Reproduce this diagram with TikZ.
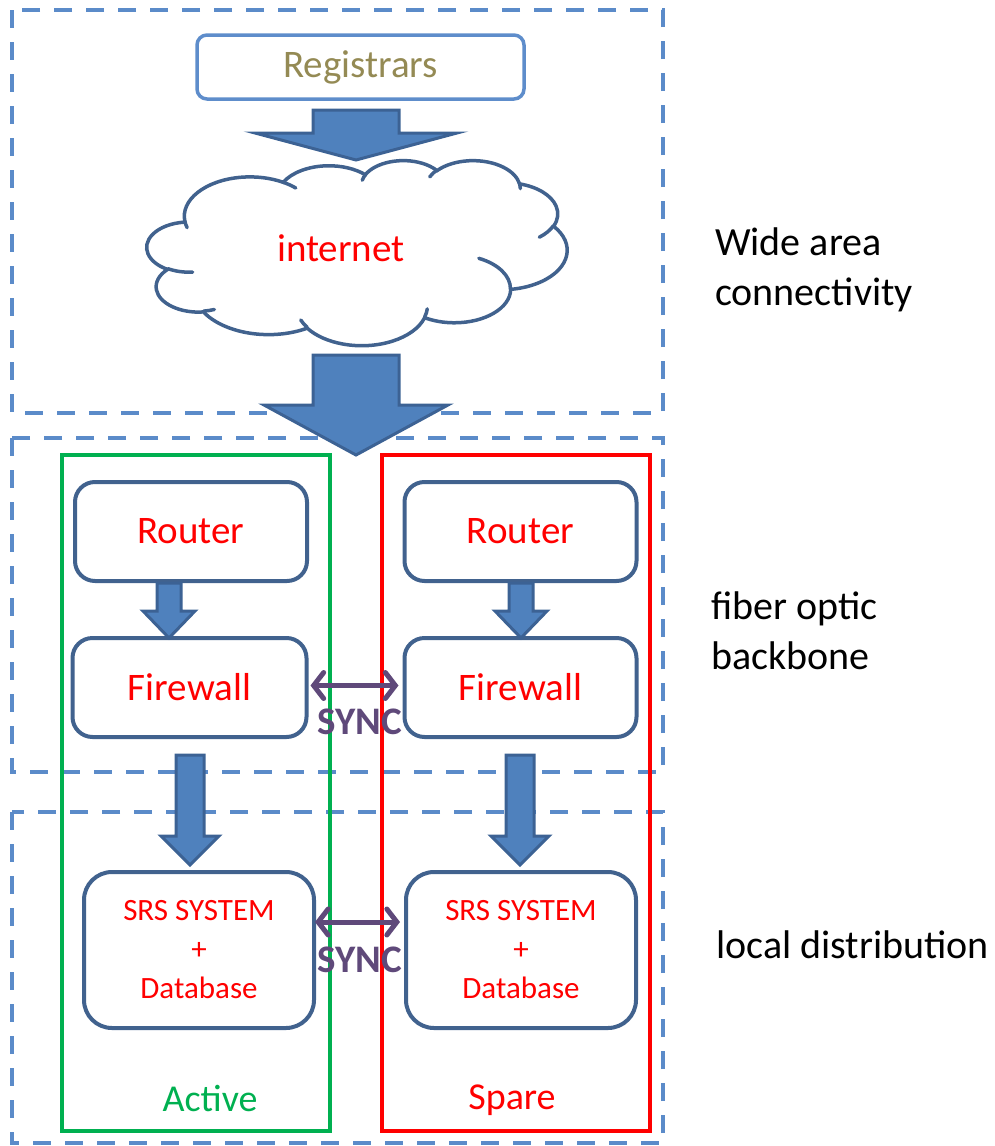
\documentclass[tikz,border=0pt]{standalone}
\usepackage{fontspec}
\setmainfont{Carlito}
\usetikzlibrary{arrows.meta,calc}
\definecolor{dashblue}{HTML}{5B8BC9}
\definecolor{boxline}{HTML}{41628E}
\definecolor{arrfill}{HTML}{4F81BD}
\definecolor{arrline}{HTML}{3C6294}
\definecolor{regline}{HTML}{5E8DCB}
\definecolor{regtext}{HTML}{948A54}
\definecolor{syncc}{HTML}{5F497A}
\definecolor{actgreen}{HTML}{00B050}
\newcommand{\blockarr}[6]{% x, ytop, shaft half, head half, length, head length
  \draw[blockarrow] (#1-#3,#2) -- (#1-#3,#2+#5-#6) -- (#1-#4,#2+#5-#6) -- (#1,#2+#5)
    -- (#1+#4,#2+#5-#6) -- (#1+#3,#2+#5-#6) -- (#1+#3,#2) -- cycle;}
% elliptic arc with visual start angle / sweep (DrawingML style)
\newcommand{\cloudarc}[4]{%
  \pgfmathsetmacro\cT{atan2((#3)*sin(#1),(#4)*cos(#1))}%
  \pgfmathsetmacro\cE{atan2((#3)*sin((#1)+(#2)),(#4)*cos((#1)+(#2)))}%
  \pgfmathsetmacro\cD{\cE-\cT}%
  \pgfmathsetmacro\cD{\cD<0 ? \cD+360 : \cD}}
\tikzset{oarc/.style n args={4}{/utils/exec={\cloudarc{#1}{#2}{#3}{#4}},
  insert path={arc[start angle=\cT,delta angle=\cD,x radius=#3,y radius=#4]}}}
\begin{document}
\begin{tikzpicture}[x=1pt,y=-1pt,
  zone/.style={draw=dashblue,line width=4pt,dash pattern=on 18pt off 14pt},
  rbox/.style={draw=boxline,line width=4pt,rounded corners=20pt,fill=white,
    text=red,font=\fontsize{39}{46}\selectfont,inner sep=0pt},
  blockarrow/.style={fill=arrfill,draw=arrline,line width=3pt,line join=miter},
  cloudline/.style={draw=boxline,line width=3.5pt},
  sync/.style={draw=syncc,line width=5pt,{Straight Barb[length=10pt,width=26pt,line cap=round]}-{Straight Barb[length=10pt,width=26pt,line cap=round]}},
  synctext/.style={text=syncc,font=\fontsize{39}{46}\selectfont\bfseries,inner sep=0pt},
  lbl/.style={font=\fontsize{40}{50}\selectfont,align=left,anchor=west,inner sep=0pt}]
\useasboundingbox (0,0) rectangle (995,1146);
% zones
\draw[zone] (12,10) rectangle (663,413);
\draw[zone] (12,438) rectangle (663,772);
\draw[zone] (12,812) rectangle (663,1143);
% active / spare frames
\draw[actgreen,line width=3.5pt] (62,455) rectangle (330,1131);
\draw[red,line width=4pt] (382,455) rectangle (650,1131);
% registrars
\node[draw=regline,line width=3.5pt,rounded corners=10pt,minimum width=327pt,minimum height=64pt,
  text=regtext,font=\fontsize{39}{46}\selectfont,inner sep=0pt] (reg) at (360.5,67) {Registrars};
% cloud (path space 4320 x 4320)
\begin{scope}[shift={(147,160)},x=0.0972222pt,y=-0.0428241pt]
  \path[cloudline,fill=white] (390,1437)
    [oarc={-190.4875}{123.7805}{675.3}{919.0}]
    [oarc={-144.1024}{89.9452}{533.3}{726.7}]
    [oarc={-145.8079}{99.7230}{436.5}{594.5}]
    [oarc={-130.9861}{117.2417}{485.7}{659.5}]
    [oarc={-78.7089}{109.0269}{533.3}{727.3}]
    [oarc={-46.2673}{130.2690}{677.5}{922.0}]
    [oarc={0.6250}{114.0333}{578.5}{786.7}]
    [oarc={22.4516}{115.1726}{675.2}{921.5}]
    [oarc={66.2426}{75.7110}{772.0}{1054.3}]
    [oarc={-274.9421}{146.7356}{436.0}{591.8}]
    [oarc={-246.8285}{152.5189}{434.5}{594.5}] -- cycle;
  \path[cloudline,line cap=round]
    (469.3,2617.7) [oarc={86.7420}{26.4295}{434.5}{594.5}]
    (692.8,3489.9) [oarc={73.6105}{11.4475}{436.0}{591.8}]
    (1647.8,3909.0) [oarc={137.6242}{14.0811}{675.2}{921.5}]
    (2882.7,3475.1) [oarc={6.4533}{15.9984}{675.2}{921.5}]
    (3412.9,2295.4) [oarc={-70.2924}{70.9174}{578.5}{786.7}]
    (4179.8,1535.4) [oarc={30.3180}{27.7515}{533.3}{727.3}]
    (3832.4,542.6) [oarc={-13.7443}{14.8589}{485.7}{659.5}]
    (2907.8,395.2) [oarc={-149.1815}{18.1954}{485.7}{659.5}]
    (2214.1,472.0) [oarc={-163.4943}{17.6864}{436.5}{594.5}]
    (1400.0,519.2) [oarc={-66.7070}{12.3194}{675.3}{919.0}]
    (412.7,1578.9) [oarc={157.6544}{11.8582}{675.3}{919.0}];
\end{scope}
\node[text=red,font=\fontsize{39}{46}\selectfont,inner sep=0pt] (inet) at (341,248) {internet};
% block arrows
\blockarr{356}{110}{43}{101}{50}{27}
\blockarr{356}{355}{43}{92}{100}{50}
% routers and firewalls
\node[rbox,minimum width=232pt,minimum height=99pt] (r1) at (191,531.5) {Router};
\node[rbox,minimum width=232pt,minimum height=99pt] (r2) at (520.5,531.5) {Router};
\node[rbox,minimum width=234pt,minimum height=99pt] (f1) at (189.5,687.5) {Firewall};
\node[rbox,minimum width=232pt,minimum height=99pt] (f2) at (520.5,687.5) {Firewall};
\blockarr{169}{583}{12}{26}{55}{27}
\blockarr{521}{583}{12}{26}{55}{27}
\blockarr{190}{755}{14}{29}{110}{29}
\blockarr{520}{755}{14}{29}{110}{29}
% SRS systems
\node[rbox,minimum width=230pt,minimum height=156pt,rounded corners=28pt,
  font=\fontsize{31}{39}\selectfont,align=center] (s1) at (199,950) {SRS SYSTEM\\+\\Database};
\node[rbox,minimum width=230pt,minimum height=156pt,rounded corners=28pt,
  font=\fontsize{31}{39}\selectfont,align=center] (s2) at (521,950) {SRS SYSTEM\\+\\Database};
% sync arrows
\draw[sync] ($(f1.east)+(2,-2)$) -- ($(f2.west)+(-4,-2)$);
\node[synctext] (sy1) at (360,722) {SYNC};
\draw[sync] ($(s1.east)+(-1,-28)$) -- ($(s2.west)+(-4,-28)$);
\node[synctext] (sy2) at (360,960) {SYNC};
% labels
\node[text=actgreen,font=\fontsize{38}{46}\selectfont,inner sep=0pt] (act) at (210,1098) {Active};
\node[text=red,font=\fontsize{38}{46}\selectfont,inner sep=0pt] (spa) at (512,1100) {Spare};
\node[lbl] (wan) at (715,270) {Wide area\\connectivity};
\node[lbl] (fib) at (711,631) {fiber optic\\backbone};
\node[lbl] (loc) at (716,945) {local distribution};
\end{tikzpicture}
\end{document}
